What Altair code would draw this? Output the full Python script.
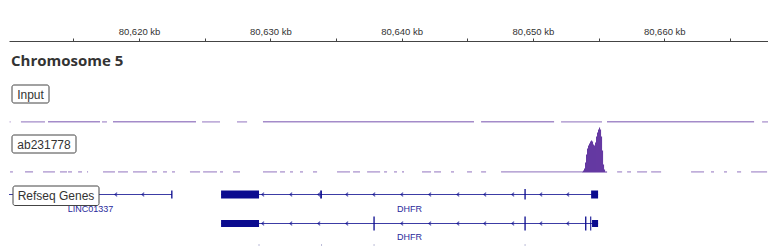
import altair as alt
import pandas as pd

# ---------------- data (genomic positions in kb) ----------------
X_DOMAIN = [80610.1, 80667.9]
tick_values = [80615, 80620, 80625, 80630, 80635, 80640, 80645, 80650, 80655, 80660, 80665]

# Input track: covered segments (start kb, end kb) and signal height
input_start = [80610.15, 80611.01, 80613.07, 80617.18, 80618.02, 80624.80, 80627.46,
               80629.44, 80646.05, 80652.14, 80655.64, 80667.45]
input_end = [80610.22, 80612.84, 80617.03, 80617.56, 80624.34, 80626.17, 80628.23,
             80645.51, 80651.61, 80655.26, 80666.84, 80667.91]
input_val = [1.2, 1.2, 1.5, 1.2, 1.5, 1.2, 1.2, 1.5, 1.5, 1.2, 1.5, 1.2]

# ab231778 track: low background segments
ab_bg_start = [80610.18, 80611.32, 80612.69, 80613.98, 80614.59, 80615.36, 80616.04, 80617.26,
               80618.40, 80619.54, 80620.99, 80621.83, 80622.51, 80623.88, 80624.88, 80626.17,
               80627.16, 80629.44, 80630.74, 80631.50, 80632.26, 80633.25, 80635.08, 80636.30,
               80637.37, 80638.66, 80639.42, 80640.03, 80641.55, 80642.47, 80643.76, 80644.98,
               80646.05, 80647.57, 80656.41, 80657.17, 80657.93, 80659.00, 80662.04, 80663.56,
               80664.55, 80665.54, 80666.61]
ab_bg_end = [80610.40, 80611.93, 80613.60, 80614.52, 80614.90, 80615.66, 80616.12, 80618.17,
             80619.16, 80620.61, 80621.37, 80622.13, 80622.74, 80624.65, 80625.94, 80626.40,
             80627.69, 80630.51, 80631.12, 80631.73, 80632.49, 80633.56, 80636.07, 80636.83,
             80638.36, 80638.89, 80639.65, 80640.18, 80642.24, 80643.00, 80643.99, 80645.36,
             80646.43, 80653.74, 80656.79, 80657.47, 80658.69, 80659.76, 80663.03, 80663.79,
             80664.78, 80665.85, 80667.83]
ab_bg_val = 1.2

# ab231778 peak: consecutive bins
peak_first_bin = 80653.74
peak_bin_kb = 0.0762
peak_vals = [1, 2, 4, 10, 18, 24, 27, 29, 31, 32, 31, 28, 27, 30, 36, 40, 43, 45, 43, 36, 22, 8, 3, 1, 1]

# Refseq genes
gene_names = ["LINC01337", "DHFR", "DHFR"]
gene_rows = [1, 1, 2]
gene_start = [80605.0, 80626.25, 80626.25]
gene_end = [80622.51, 80654.96, 80654.96]

exon_row = [1, 1, 1, 1, 1, 2, 2, 2, 2, 2, 2]
exon_start = [80622.45, 80626.25, 80633.80, 80649.35, 80654.43,
              80626.25, 80637.85, 80649.35, 80653.97, 80654.36, 80654.50]
exon_end = [80622.55, 80629.14, 80633.93, 80649.45, 80654.96,
            80629.14, 80637.95, 80649.45, 80654.07, 80654.44, 80654.96]
exon_tall = [False, False, False, True, False, False, True, True, True, True, False]

# strand arrows along introns
arrow_row1 = [80612.08, 80614.14, 80616.19, 80618.25, 80620.31,
              80629.44, 80631.58, 80633.71, 80635.84, 80637.90, 80640.03, 80642.16,
              80644.30, 80646.35, 80648.48, 80650.62, 80652.67]
arrow_row2 = [80629.44, 80631.58, 80633.71, 80635.84, 80640.03, 80642.16,
              80644.30, 80646.35, 80648.48, 80650.62, 80652.67]

# third transcript (cut off at the bottom edge)
row3_marks = [80629.14, 80633.90, 80637.90, 80649.40]

# ---------------- styles ----------------
GENE = "#0b0b8f"
SIG = "#5a2c9c"
TXT = "#333333"
W, H = 759, 207
Y_INPUT = 81.5
Y_AB = 131.5
Y_R1 = 153.5
Y_R2 = 182.5

xs = alt.Scale(domain=X_DOMAIN, nice=False, zero=False)
xaxis = alt.Axis(
    orient="top", values=tick_values, title=None, grid=False,
    labelExpr="datum.value % 10 == 0 ? format(datum.value, ',') + ' kb' : ''",
    labelFont="Liberation Sans", labelFontSize=9.5, labelColor=TXT, labelPadding=2,
    tickSize=3, tickColor="#444", domainColor="#444", domainWidth=1.2, tickWidth=1,
    labelFlush=False, labelOverlap=False,
)


def X(field):
    return alt.X(field, type="quantitative", scale=xs, axis=xaxis)


def sig_y(field, base):
    return alt.Y(field, type="quantitative",
                 scale=alt.Scale(domain=[0, 45], range=[base, base - 45]), axis=None)


# data frames
df_input = pd.DataFrame({"s": input_start, "e": input_end, "inp": input_val})
df_ab_bg = pd.DataFrame({"s": ab_bg_start, "e": ab_bg_end, "abb": ab_bg_val})
df_peak = pd.DataFrame({
    "s": [peak_first_bin + i * peak_bin_kb for i in range(len(peak_vals))],
    "e": [peak_first_bin + (i + 1) * peak_bin_kb for i in range(len(peak_vals))],
    "ab": peak_vals,
})
df_genes = pd.DataFrame({"name": gene_names, "row": gene_rows, "s": gene_start, "e": gene_end})
df_genes["mid"] = (df_genes["s"].clip(lower=X_DOMAIN[0]) + df_genes["e"].clip(upper=X_DOMAIN[1])) / 2
df_exons = pd.DataFrame({"row": exon_row, "s": exon_start, "e": exon_end, "tall": exon_tall})
df_arrows = pd.concat([
    pd.DataFrame({"p": arrow_row1, "row": 1}),
    pd.DataFrame({"p": arrow_row2, "row": 2}),
], ignore_index=True)
df_row3 = pd.DataFrame({"p": row3_marks})

layers = []

# Input signal
layers.append(
    alt.Chart(df_input).mark_rect(color=SIG, opacity=0.55).encode(
        x=X("s"), x2="e", y=sig_y("inp", Y_INPUT), y2=alt.value(Y_INPUT),
    )
)
# ab231778 background
layers.append(
    alt.Chart(df_ab_bg).mark_rect(color=SIG, opacity=0.55).encode(
        x=X("s"), x2="e", y=sig_y("abb", Y_AB), y2=alt.value(Y_AB),
    )
)
# ab231778 peak
layers.append(
    alt.Chart(df_peak).mark_rect(color=SIG).encode(
        x=X("s"), x2="e", y=sig_y("ab", Y_AB), y2=alt.value(Y_AB),
    )
)

# gene intron lines
for row, yv in [(1, Y_R1), (2, Y_R2)]:
    layers.append(
        alt.Chart(df_genes).transform_filter(alt.datum.row == row)
        .mark_rule(color=GENE, strokeWidth=1, clip=True, opacity=0.8)
        .encode(x=X("s"), x2="e", y=alt.value(yv))
    )
    layers.append(
        alt.Chart(df_arrows).transform_filter(alt.datum.row == row)
        .mark_point(shape="M 0.6 -1 L -0.6 0 L 0.6 1", size=14, filled=False,
                    color=GENE, strokeWidth=1.2, clip=True)
        .encode(x=X("p"), y=alt.value(yv))
    )

# exons
exon_geom = [(1, False, Y_R1 - 4, Y_R1 + 4), (1, True, Y_R1 - 5.5, Y_R1 + 5),
             (2, False, Y_R2 - 3.5, Y_R2 + 3.5), (2, True, Y_R2 - 7, Y_R2 + 7)]
for row, tall, y1, y2 in exon_geom:
    layers.append(
        alt.Chart(df_exons).transform_filter((alt.datum.row == row) & (alt.datum.tall == tall))
        .mark_rect(color=GENE, clip=True)
        .encode(x=X("s"), x2="e", y=alt.value(y1), y2=alt.value(y2))
    )

# third transcript remnants at the bottom
layers.append(
    alt.Chart(df_row3).mark_tick(color="#a0a0c8", thickness=1, size=2, orient="vertical")
    .encode(x=X("p"), y=alt.value(H - 3))
)

# gene labels
for row, yv in [(1, 167.5), (2, 196)]:
    layers.append(
        alt.Chart(df_genes).transform_filter(alt.datum.row == row)
        .mark_text(font="Liberation Sans", fontSize=9, color="#2a2a9c", baseline="middle", align="center")
        .encode(x=X("mid"), y=alt.value(yv), text="name:N")
    )

# title
layers.append(
    alt.Chart(pd.DataFrame({"t": ["Chromosome 5"]})).mark_text(
        font="Open Sans", fontWeight="bold", fontSize=15, color=TXT, align="left", baseline="middle"
    ).encode(x=alt.value(2), y=alt.value(19.5), text="t:N")
)

# track label boxes
boxes = [("Input", 3, 40, 44, 62), ("ab231778", 3, 67, 94, 112), ("Refseq Genes", 4, 90, 145, 164.5)]
for label, bx1, bx2, by1, by2 in boxes:
    d = pd.DataFrame({"t": [label]})
    layers.append(
        alt.Chart(d).mark_rect(fill="white", stroke="#444", strokeWidth=1, cornerRadius=2)
        .encode(x=alt.value(bx1), x2=alt.value(bx2), y=alt.value(by1), y2=alt.value(by2))
    )
    layers.append(
        alt.Chart(d).mark_text(font="Liberation Sans", fontSize=12, color=TXT,
                               align="center", baseline="middle")
        .encode(x=alt.value((bx1 + bx2) / 2), y=alt.value((by1 + by2) / 2 + 0.5), text="t:N")
    )

chart = (
    alt.layer(*layers)
    .resolve_scale(y="independent")
    .properties(
        width=W, height=H,
        autosize=alt.AutoSizeParams(type="none"),
        padding={"left": 9, "top": 41, "right": 0, "bottom": 0},
        background="white",
    )
    .configure_view(stroke=None)
)

chart.save("out.html", embed_options={"renderer": "svg", "actions": False})
